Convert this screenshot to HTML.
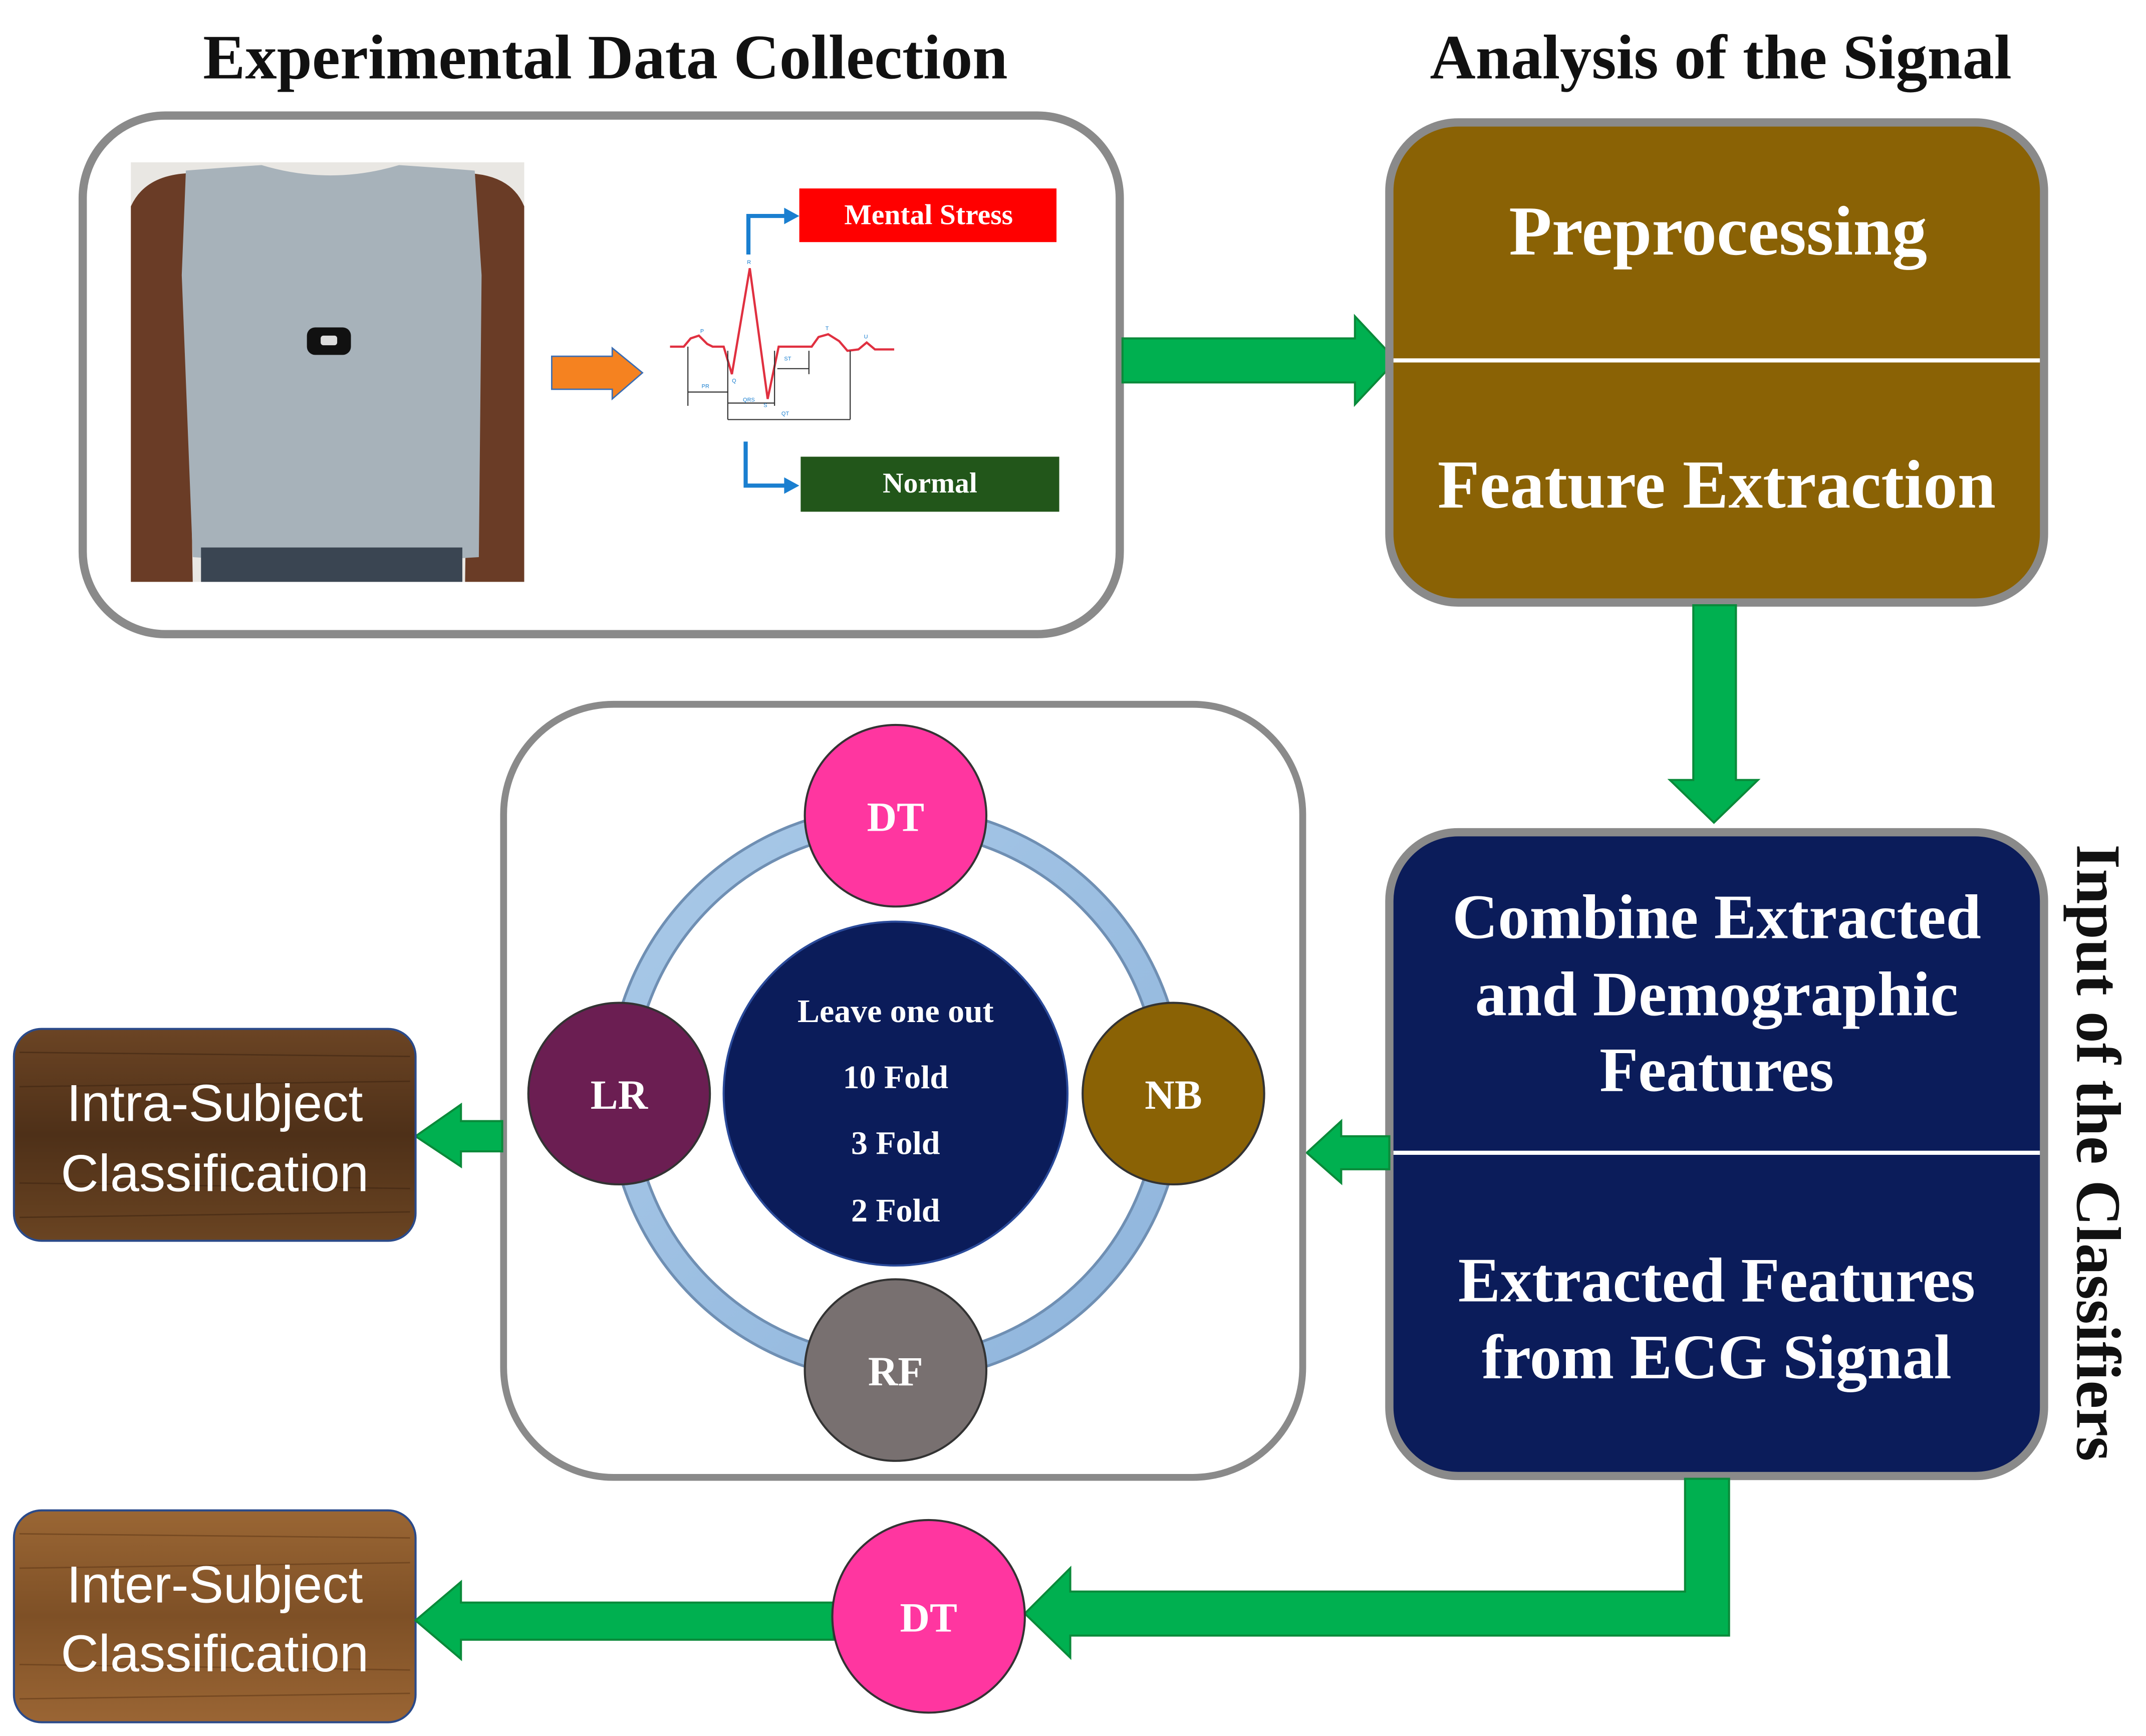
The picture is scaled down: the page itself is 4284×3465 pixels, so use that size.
<!DOCTYPE html>
<html><head><meta charset="utf-8"><style>
html,body{margin:0;padding:0;background:#fff;}
svg{display:block;}
.t{font-family:"Liberation Serif",serif;font-weight:bold;}
</style></head><body>
<svg width="4284" height="3465" viewBox="0 0 1560 1262" xmlns="http://www.w3.org/2000/svg">
<defs>
<linearGradient id="wood1" x1="0" y1="0" x2="0" y2="1">
<stop offset="0" stop-color="#6b4424"/><stop offset="0.5" stop-color="#4e3018"/><stop offset="1" stop-color="#6a4422"/>
</linearGradient>
<linearGradient id="wood2" x1="0" y1="0" x2="0" y2="1">
<stop offset="0" stop-color="#9a6634"/><stop offset="0.5" stop-color="#7e5026"/><stop offset="1" stop-color="#9a6534"/>
</linearGradient>
<linearGradient id="ring" x1="0" y1="0" x2="1" y2="1">
<stop offset="0" stop-color="#a9c9e8"/><stop offset="1" stop-color="#8fb5dc"/>
</linearGradient>
</defs>

<!-- titles -->
<text class="t" x="440" y="57" font-size="46" text-anchor="middle" fill="#111">Experimental Data Collection</text>
<text class="t" x="1251" y="57" font-size="46" text-anchor="middle" fill="#111">Analysis of the Signal</text>

<!-- top-left box -->
<rect x="60" y="84" width="754" height="377" rx="60" fill="#fff" stroke="#8a8a8a" stroke-width="6"/>
<!-- photo -->
<rect x="95" y="118" width="286" height="305" fill="#e9e7e3"/>
<path d="M95 150 Q105 128 135 126 L140 423 L95 423Z" fill="#6a3c26"/>
<path d="M381 150 Q372 128 342 126 L338 423 L381 423Z" fill="#6a3c26"/>
<path d="M135 124 Q160 122 190 120 Q240 135 290 120 Q320 122 345 124 L350 200 L348 405 Q240 412 140 405 L132 200Z" fill="#a7b2ba"/>
<rect x="146" y="398" width="190" height="25" fill="#3a4552"/>
<rect x="223" y="238" width="32" height="20" rx="6" fill="#111"/>
<rect x="233" y="244" width="12" height="7" rx="2" fill="#ddd"/>
<!-- orange arrow -->
<polygon points="401,259 445,259 445,253 467,271 445,290 445,283 401,283" fill="#f58220" stroke="#3b6db3" stroke-width="1"/>
<!-- ECG -->
<polyline points="487,252 497,252 502,246 508,244 514,250 518,252 526,252 532,272 545,195 558,290 566,252 590,252 595,245 602,243 610,248 616,255 624,254 630,249 636,254 650,254" fill="none" stroke="#e03040" stroke-width="1.6"/>
<g stroke="#333" stroke-width="0.8" fill="none">
<line x1="500" y1="252" x2="500" y2="295"/><line x1="529" y1="255" x2="529" y2="305"/>
<line x1="563" y1="255" x2="563" y2="295"/><line x1="588" y1="255" x2="588" y2="272"/>
<line x1="618" y1="255" x2="618" y2="305"/><line x1="529" y1="305" x2="618" y2="305"/>
<line x1="500" y1="285" x2="529" y2="285"/><line x1="529" y1="293" x2="563" y2="293"/>
<line x1="565" y1="268" x2="588" y2="268"/>
</g>
<g fill="#1a7fd0" font-family="Liberation Sans,sans-serif" font-size="4">
<text x="509" y="242">P</text><text x="543" y="192">R</text><text x="532" y="278">Q</text><text x="555" y="296">S</text><text x="600" y="240">T</text><text x="628" y="246">U</text>
<text x="510" y="282">PR</text><text x="540" y="292">QRS</text><text x="570" y="262">ST</text><text x="568" y="302">QT</text>
</g>
<!-- blue connectors -->
<polyline points="544,185 544,157 572,157" fill="none" stroke="#1a7fd0" stroke-width="3"/>
<polygon points="570,151 581,157 570,163" fill="#1a7fd0"/>
<polyline points="542,321 542,353 572,353" fill="none" stroke="#1a7fd0" stroke-width="3"/>
<polygon points="570,347 581,353 570,359" fill="#1a7fd0"/>
<rect x="581" y="137" width="187" height="39" fill="#ff0000"/>
<text class="t" x="675" y="163" font-size="21" text-anchor="middle" fill="#fff">Mental Stress</text>
<rect x="582" y="332" width="188" height="40" fill="#22561a"/>
<text class="t" x="676" y="358" font-size="21" text-anchor="middle" fill="#fff">Normal</text>

<!-- green arrow right -->
<polygon points="816,246 985,246 985,230 1015,262 985,294 985,278 816,278" fill="#00b050" stroke="#0a8a3a" stroke-width="1.5"/>

<!-- brown box -->
<rect x="1010" y="89" width="476" height="349" rx="50" fill="#8a6205" stroke="#8a8a8a" stroke-width="6"/>
<line x1="1013" y1="262" x2="1483" y2="262" stroke="#fff" stroke-width="3"/>
<text class="t" x="1249" y="185" font-size="51" text-anchor="middle" fill="#fff">Preprocessing</text>
<text class="t" x="1248" y="369" font-size="50" text-anchor="middle" fill="#fff">Feature Extraction</text>

<!-- down arrow -->
<polygon points="1231,440 1262,440 1262,567 1278,567 1246,598 1214,567 1231,567" fill="#00b050" stroke="#0a8a3a" stroke-width="1.5"/>

<!-- navy box -->
<rect x="1010" y="605" width="476" height="468" rx="50" fill="#0b1c5a" stroke="#8a8a8a" stroke-width="6"/>
<line x1="1013" y1="838" x2="1483" y2="838" stroke="#fff" stroke-width="3"/>
<g class="t" font-size="46" text-anchor="middle" fill="#fff">
<text x="1248" y="682">Combine Extracted</text>
<text x="1248" y="738">and Demographic</text>
<text x="1248" y="793">Features</text>
<text x="1248" y="946">Extracted Features</text>
<text x="1248" y="1002">from ECG Signal</text>
</g>
<text class="t" x="0" y="0" font-size="46" text-anchor="middle" fill="#111" transform="translate(1510,838) rotate(90)">Input of the Classifiers</text>

<!-- arrow into circle box -->
<polygon points="1010,826 975,826 975,815 950,838 975,860 975,850 1010,850" fill="#00b050" stroke="#0a8a3a" stroke-width="1.5"/>

<!-- middle box -->
<rect x="366" y="512" width="581" height="562" rx="80" fill="#fff" stroke="#8a8a8a" stroke-width="5"/>
<circle cx="651" cy="795" r="200" fill="none" stroke="#6f8fb3" stroke-width="20"/>
<circle cx="651" cy="795" r="200" fill="none" stroke="url(#ring)" stroke-width="16"/>
<circle cx="651" cy="795" r="125" fill="#0b1c5a" stroke="#2a4a9a" stroke-width="1.5"/>
<g class="t" font-size="24" text-anchor="middle" fill="#fff">
<text x="651" y="743">Leave one out</text>
<text x="651" y="791">10 Fold</text>
<text x="651" y="839">3 Fold</text>
<text x="651" y="888">2 Fold</text>
</g>
<g stroke="#333" stroke-width="1.5">
<circle cx="651" cy="593" r="66" fill="#ff36a0"/>
<circle cx="450" cy="795" r="66" fill="#6b1e52"/>
<circle cx="853" cy="795" r="66" fill="#8a6205"/>
<circle cx="651" cy="996" r="66" fill="#787070"/>
</g>
<g class="t" font-size="30" text-anchor="middle" fill="#fff" font-weight="normal">
<text x="651" y="604">DT</text><text x="450" y="806">LR</text><text x="853" y="806">NB</text><text x="651" y="1007">RF</text>
</g>

<!-- arrow to intra -->
<polygon points="365,815 335,815 335,803 302,826 335,848 335,837 365,837" fill="#00b050" stroke="#0a8a3a" stroke-width="1.5"/>

<!-- intra box -->
<rect x="10" y="748" width="292" height="154" rx="20" fill="url(#wood1)" stroke="#2a4a8a" stroke-width="1.5"/>
<g stroke="#3a2210" stroke-width="1" opacity="0.5">
<line x1="14" y1="765" x2="298" y2="768"/><line x1="14" y1="790" x2="298" y2="786"/><line x1="14" y1="860" x2="298" y2="864"/><line x1="14" y1="885" x2="298" y2="881"/>
</g>
<g font-family="Liberation Sans,sans-serif" font-size="38" text-anchor="middle" fill="#fff">
<text x="156" y="815">Intra-Subject</text><text x="156" y="866">Classification</text>
</g>

<!-- inter box -->
<rect x="10" y="1098" width="292" height="154" rx="20" fill="url(#wood2)" stroke="#2a4a8a" stroke-width="1.5"/>
<g stroke="#5a3414" stroke-width="1" opacity="0.5">
<line x1="14" y1="1115" x2="298" y2="1118"/><line x1="14" y1="1140" x2="298" y2="1136"/><line x1="14" y1="1210" x2="298" y2="1214"/><line x1="14" y1="1235" x2="298" y2="1231"/>
</g>
<g font-family="Liberation Sans,sans-serif" font-size="38" text-anchor="middle" fill="#fff">
<text x="156" y="1165">Inter-Subject</text><text x="156" y="1215">Classification</text>
</g>

<!-- bottom connector -->
<polygon points="1225,1075 1257,1075 1257,1189 778,1189 778,1205 745,1173 778,1140 778,1157 1225,1157" fill="#00b050" stroke="#0a8a3a" stroke-width="1.5"/>
<!-- arrow DT to inter -->
<polygon points="606,1165 335,1165 335,1150 302,1178 335,1206 335,1192 606,1192" fill="#00b050" stroke="#0a8a3a" stroke-width="1.5"/>
<circle cx="675" cy="1175" r="70" fill="#ff36a0" stroke="#333" stroke-width="1.5"/>
<text class="t" x="675" y="1186" font-size="30" text-anchor="middle" fill="#fff" font-weight="normal">DT</text>
</svg>
</body></html>
